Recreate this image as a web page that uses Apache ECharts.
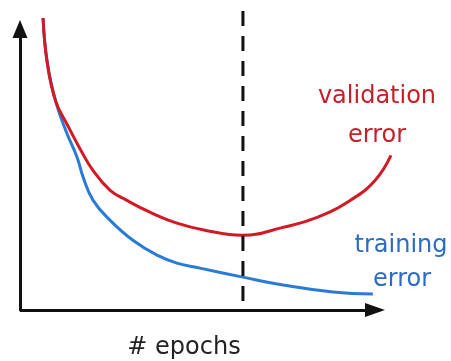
<!DOCTYPE html>
<html>
<head>
<meta charset="utf-8">
<script src="https://cdn.jsdelivr.net/npm/echarts@6/dist/echarts.min.js"></script>
<style>html,body{margin:0;padding:0;background:#fff}#c{width:451px;height:361px}</style>
</head>
<body>
<div id="c"></div>
<script>
// epochs (x) and error (y), arbitrary units
const validationX = [6.5, 7.6, 10.0, 13.5, 16.9, 20.6, 25.4, 30.1, 36.6, 44.2, 52.1, 62.5, 74.1, 83.7, 93.0, 100.0, 104.5];
const validationY = [103.9, 88.7, 74.5, 65.5, 57.4, 49.6, 42.6, 39.0, 34.8, 30.9, 28.4, 26.6, 29.4, 33.0, 39.0, 46.1, 55.0];
const trainingX = [6.5, 7.6, 10.0, 13.0, 16.1, 17.8, 20.6, 25.4, 31.8, 38.6, 44.2, 50.7, 62.8, 74.1, 88.2, 99.4];
const trainingY = [103.9, 88.7, 74.5, 63.5, 54.3, 47.2, 39.0, 31.9, 24.8, 19.5, 16.7, 14.9, 11.7, 8.9, 6.4, 5.7];
const stopEpoch = 62.8;
const stopLineY = [106.4, 0];
const xAxisEnd = 100;
const labels = { validation: ['validation', 'error'], training: ['training', 'error'], xName: '# epochs' };

const zip = (xs, ys) => xs.map((x, i) => [x, ys[i]]);
const chart = echarts.init(document.getElementById('c'), null, { renderer: 'canvas' });
const FONT = '24px "DejaVu Sans"';
chart.setOption({
  backgroundColor: '#fff',
  animation: false,
  grid: { left: 20, right: 54.7, top: 29, bottom: 51 },
  xAxis: {
    type: 'value', min: 0, max: 106,
    axisLine: { show: false },
    axisTick: { show: false }, axisLabel: { show: false }, splitLine: { show: false }
  },
  yAxis: {
    type: 'value', min: 0, max: 100,
    axisLine: { show: true, symbol: ['none', 'triangle'], symbolSize: [15, 18], lineStyle: { color: '#111', width: 3 } },
    axisTick: { show: false }, axisLabel: { show: false }, splitLine: { show: false }
  },
  series: [
    {
      type: 'line', data: zip(trainingX, trainingY), smooth: 0.45,
      showSymbol: false, clip: false, lineStyle: { color: '#2a7bd6', width: 3 }, z: 2,
      markLine: {
        silent: true, animation: false,
        symbol: ['none', 'triangle'], symbolSize: [14, 20],
        label: { show: false },
        lineStyle: { color: '#111', width: 3, type: 'solid' },
        emphasis: { disabled: true },
        data: [[{ coord: [0, 0] }, { coord: [xAxisEnd, 0] }]]
      }
    },
    {
      type: 'line', data: zip(validationX, validationY), smooth: 0.45,
      showSymbol: false, clip: false, lineStyle: { color: '#d11a24', width: 3 }, z: 3
    },
    {
      type: 'line', data: stopLineY.map(y => [stopEpoch, y]),
      showSymbol: false, clip: false,
      lineStyle: { color: '#111', width: 3, type: [15, 10] }, z: 4
    }
  ],
  graphic: [
    { type: 'text', x: 377, y: 97, style: { text: labels.validation[0], font: FONT, fill: '#c4212b', align: 'center', verticalAlign: 'middle' } },
    { type: 'text', x: 377, y: 136, style: { text: labels.validation[1], font: FONT, fill: '#c4212b', align: 'center', verticalAlign: 'middle' } },
    { type: 'text', x: 401, y: 246, style: { text: labels.training[0], font: FONT, fill: '#2c6cc0', align: 'center', verticalAlign: 'middle' } },
    { type: 'text', x: 402, y: 280, style: { text: labels.training[1], font: FONT, fill: '#2c6cc0', align: 'center', verticalAlign: 'middle' } },
    { type: 'text', x: 184, y: 348, style: { text: labels.xName, font: FONT, fill: '#222', align: 'center', verticalAlign: 'middle' } }
  ]
});
</script>
</body>
</html>
